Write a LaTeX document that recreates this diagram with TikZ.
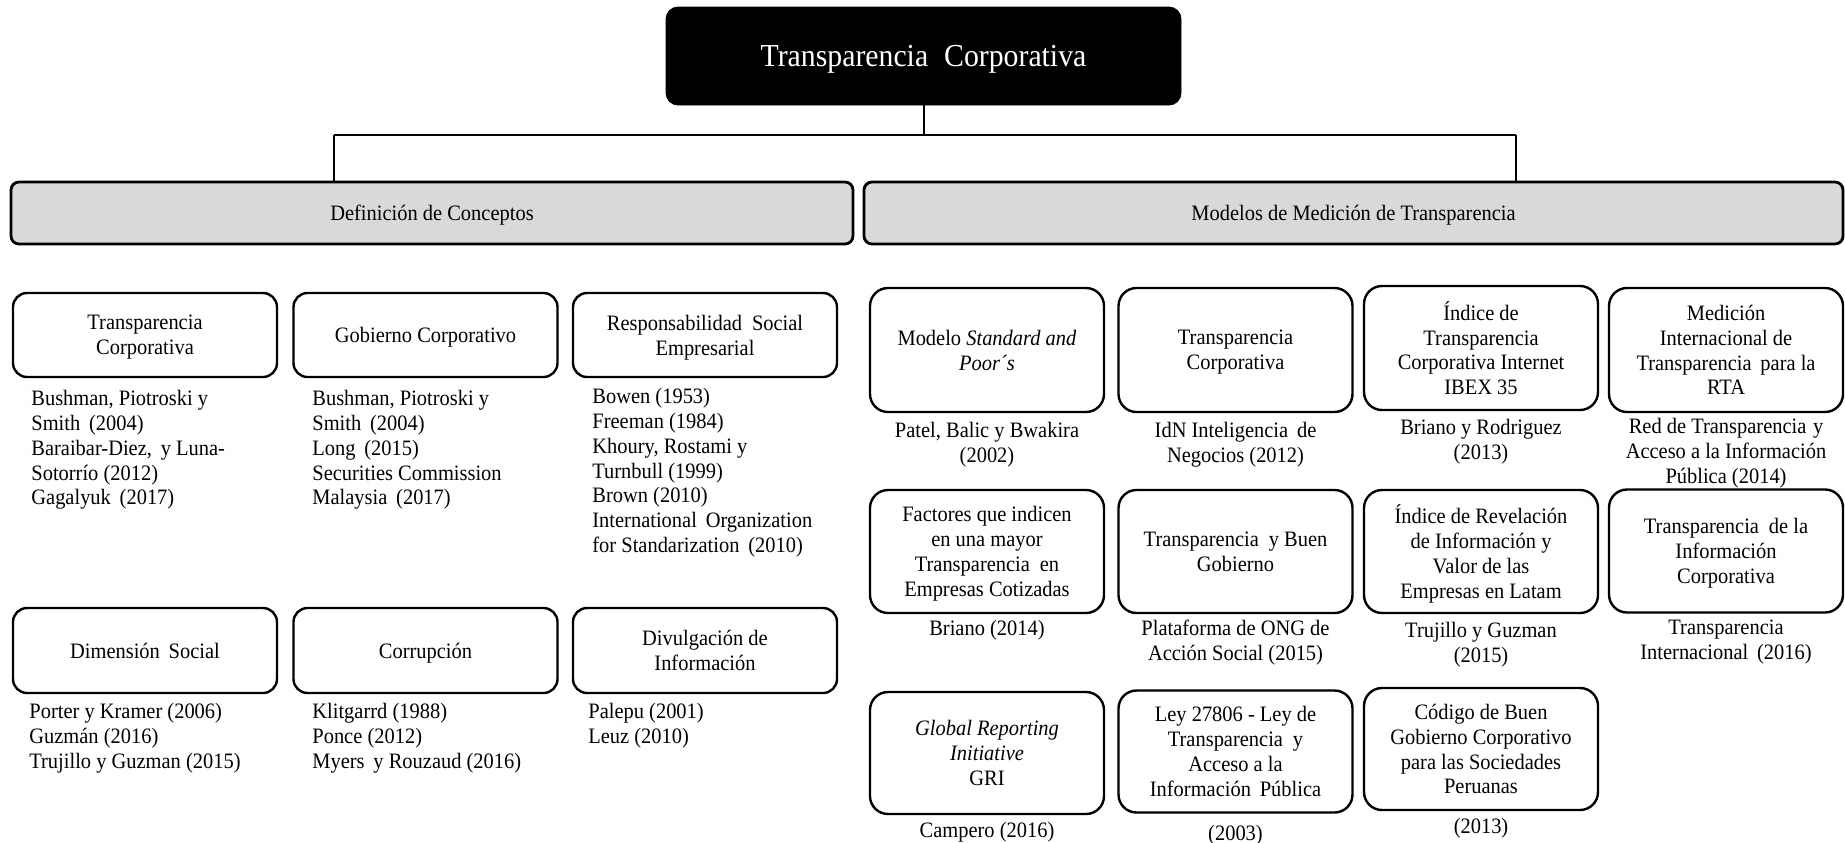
\documentclass[tikz,border=0pt]{standalone}
\usepackage{fontspec}
\setmainfont[FakeStretch=0.93]{Liberation Serif}
\definecolor{lgray}{HTML}{D9D9D9}
\newcommand{\bodyf}{\fontsize{11pt}{12.4pt}\selectfont}
\begin{document}
\begin{tikzpicture}[x=0.5pt,y=-0.5pt,
  lbox/.style={draw, line width=1.2pt, rounded corners=7pt, fill=white, inner sep=0pt, align=center, font=\bodyf, minimum width=132pt, minimum height=42pt, text depth=0pt},
  rbox/.style={lbox, rounded corners=9pt, minimum width=117pt, minimum height=61.5pt},
  lvbox/.style={lbox, fill=lgray, rounded corners=4pt, line width=1.4pt, minimum height=31pt},
  topbox/.style={draw, fill=black, rounded corners=6pt, inner sep=0pt, text=white, font=\fontsize{16pt}{19pt}\selectfont, minimum width=257.5pt, minimum height=49pt, text depth=0pt},
  lcite/.style={inner sep=0pt, align=left, font=\bodyf, anchor=north west},
  ccite/.style={inner sep=0pt, align=center, font=\bodyf, anchor=north},
  conn/.style={line width=1pt},
  bar/.style={line width=1.4pt}]
\useasboundingbox (0,0) rectangle (1845,842);

% top
\node[topbox] (top) at (923.5,56) {Transparencia\hspace{0.5em}Corporativa};

% level 2
\node[lvbox, minimum width=421pt] (def) at (432,213) {Definición de Conceptos};
\node[lvbox, minimum width=489.5pt] (mod) at (1353.5,213) {Modelos de Medición de Transparencia};

% connectors
\coordinate (barL) at (334,135);
\coordinate (barR) at (1516,135);
\draw[conn] (top.south) -- (top.south |- barL);
\draw[bar] (barL) -- (barR);
\draw[conn] (barL) -- (barL |- def.north);
\draw[conn] (barR) -- (barR |- mod.north);

% left grid
\node[lbox] (tc) at (145,335) {Transparencia\\Corporativa};
\node[lbox] (gc) at (425.5,335) {Gobierno Corporativo};
\node[lbox] (rse) at (705,335) {Responsabilidad\hspace{0.45em}Social\\Empresarial};
\node[lbox, minimum height=42.5pt] (ds) at (145,650.5) {Dimensión\hspace{0.4em}Social};
\node[lbox, minimum height=42.5pt] (co) at (425.5,650.5) {Corrupción};
\node[lbox, minimum height=42.5pt] (di) at (705,650.5) {Divulgación de\\Información};

\node[lcite] (tcc) at (31,390) {Bushman, Piotroski y\\Smith\hspace{0.4em}(2004)\\Baraibar-Diez,\hspace{0.4em}y Luna-\\Sotorrío (2012)\\Gagalyuk\hspace{0.4em}(2017)};
\node[lcite] (gcc) at (312,390) {Bushman, Piotroski y\\Smith\hspace{0.4em}(2004)\\Long\hspace{0.4em}(2015)\\Securities Commission\\Malaysia\hspace{0.4em}(2017)};
\node[lcite] (rsec) at (592,388) {Bowen (1953)\\Freeman (1984)\\Khoury, Rostami y\\Turnbull (1999)\\Brown (2010)\\International\hspace{0.4em}Organization\\for Standarization\hspace{0.4em}(2010)};
\node[lcite] (dsc) at (29,703) {Porter y Kramer (2006)\\Guzmán (2016)\\Trujillo y Guzman (2015)};
\node[lcite] (coc) at (312,703) {Klitgarrd (1988)\\Ponce (2012)\\Myers\hspace{0.4em}y Rouzaud (2016)};
\node[lcite] (dic) at (588,703) {Palepu (2001)\\Leuz (2010)};

% right grid row 1
\node[rbox, minimum height=62pt] (r11) at (987,350) {Modelo \textit{Standard and}\\\textit{Poor´s}};
\node[rbox, minimum height=62pt] (r12) at (1235.5,350) {Transparencia\\Corporativa};
\node[rbox, minimum height=62pt] (r13) at (1481,348) {Índice de\\Transparencia\\Corporativa Internet\\IBEX 35};
\node[rbox, minimum height=62pt] (r14) at (1726,350) {Medición\\Internacional de\\Transparencia\hspace{0.4em}para la\\RTA};

\node[ccite] (c11) at (r11.south |- 0,422) {Patel, Balic y Bwakira\\(2002)};
\node[ccite] (c12) at (r12.south |- 0,422) {IdN Inteligencia\hspace{0.4em}de\\Negocios (2012)};
\node[ccite] (c13) at (r13.south |- 0,419) {Briano y Rodriguez\\(2013)};
\node[ccite] (c14) at (r14.south |- 0,418) {Red de Transparencia\hspace{0.3em}y\\Acceso a la Información\\Pública (2014)};

% row 2
\node[rbox] (r21) at (987,551.5) {Factores que indicen\\en una mayor\\Transparencia\hspace{0.45em}en\\Empresas Cotizadas};
\node[rbox] (r22) at (1235.5,551.5) {Transparencia\hspace{0.45em}y Buen\\Gobierno};
\node[rbox] (r23) at (1481,551.5) {Índice de Revelación\\de Información y\\Valor de las\\Empresas en Latam};
\node[rbox] (r24) at (1726,551) {Transparencia\hspace{0.45em}de la\\Información\\Corporativa};

\node[ccite] (c21) at (r21.south |- 0,620) {Briano (2014)};
\node[ccite] (c22) at (r22.south |- 0,620) {Plataforma de ONG de\\Acción Social (2015)};
\node[ccite] (c23) at (r23.south |- 0,622) {Trujillo y Guzman\\(2015)};
\node[ccite] (c24) at (r24.south |- 0,620) {Transparencia\\Internacional\hspace{0.4em}(2016)};

% row 3
\node[rbox, minimum height=61pt] (r31) at (987,753) {\textit{Global Reporting}\\\textit{Initiative}\\GRI};
\node[rbox, minimum height=61pt] (r32) at (1235.5,751.5) {Ley 27806 - Ley de\\Transparencia\hspace{0.45em}y\\Acceso a la\\Información\hspace{0.4em}Pública};
\node[rbox, minimum height=61pt] (r33) at (1481,749) {Código de Buen\\Gobierno Corporativo\\para las Sociedades\\Peruanas};

\node[ccite] (c31) at (r31.south |- 0,822) {Campero (2016)};
\node[ccite] (c32) at (r32.south |- 0,825) {(2003)};
\node[ccite] (c33) at (r33.south |- 0,818) {(2013)};
\end{tikzpicture}
\end{document}
